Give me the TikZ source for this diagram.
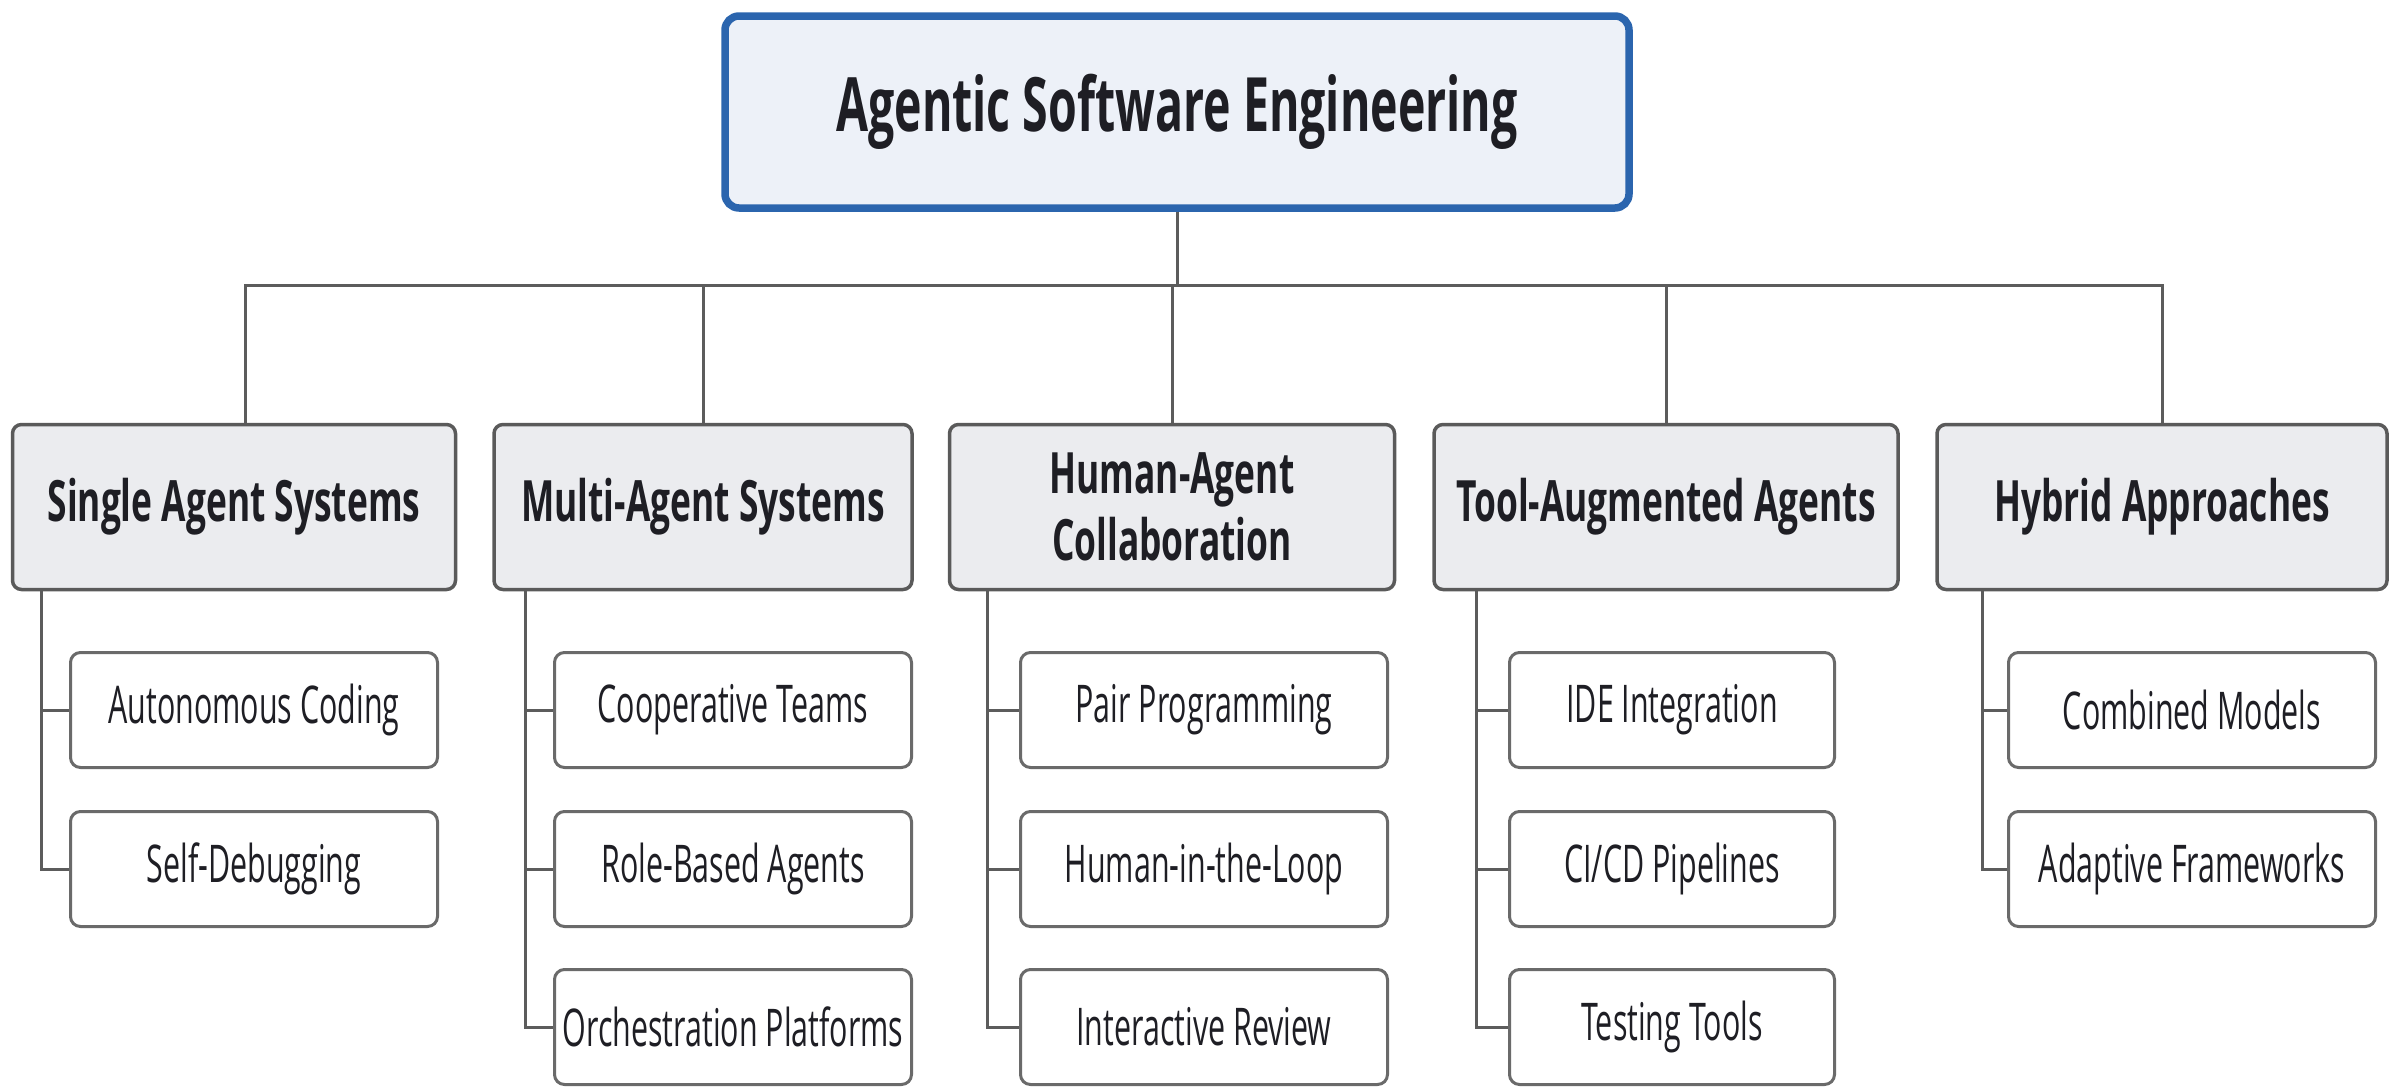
\documentclass[tikz,border=0pt]{standalone}
\usepackage{fontspec}
\setmainfont{Open Sans}[FakeStretch=0.62]
\newfontfamily\kidfont{Open Sans}[FakeStretch=0.585]
\usetikzlibrary{positioning,calc}
\definecolor{rootfill}{HTML}{EDF1F8}
\definecolor{rootedge}{HTML}{2B65AE}
\definecolor{catfill}{HTML}{EBECEF}
\definecolor{catedge}{HTML}{5A5A5A}
\definecolor{kidedge}{HTML}{6A6A6A}
\definecolor{txt}{HTML}{1E1E24}
\definecolor{linec}{HTML}{5C5C5C}
\tikzset{
  rootbox/.style={draw=rootedge, line width=7.5pt, fill=rootfill, rounded corners=14pt,
    minimum width=904pt, minimum height=192pt, inner sep=0pt, text=txt,
    font=\fontsize{75}{80}\selectfont\bfseries},
  catbox/.style={draw=catedge, line width=3.5pt, fill=catfill, rounded corners=9pt,
    minimum height=165pt, inner sep=0pt, text=txt, align=center,
    font=\fontsize{57}{67}\selectfont\bfseries},
  kidbox/.style={draw=kidedge, line width=3pt, fill=white, rounded corners=10pt,
    minimum height=115pt, inner sep=0pt, text=txt,
    font=\kidfont\fontsize{52}{60}\selectfont},
  conn/.style={draw=linec, line width=3pt}
}
\begin{document}
\begin{tikzpicture}[x=1pt,y=-1pt]
\useasboundingbox (0,0) rectangle (2399,1087);
% root
\node[rootbox] (root) at (1177,112) {Agentic Software Engineering};
% categories
\node[catbox, minimum width=443pt] (cat1) at (234,507) {Single Agent Systems};
\node[catbox, minimum width=418pt] (cat2) at (703,507) {Multi-Agent Systems};
\node[catbox, minimum width=445pt] (cat3) at (1172,507) {Human-Agent\\Collaboration};
\node[catbox, minimum width=464pt] (cat4) at (1666,507) {Tool-Augmented Agents};
\node[catbox, minimum width=450pt] (cat5) at (2162,507) {Hybrid Approaches};
% children
\node[kidbox, minimum width=367pt] (k11) at (254,710) {Autonomous Coding};
\node[kidbox, minimum width=367pt] (k12) at (254,869) {Self-Debugging};
\node[kidbox, minimum width=357pt] (k21) at (733,710) {Cooperative Teams};
\node[kidbox, minimum width=357pt] (k22) at (733,869) {Role-Based Agents};
\node[kidbox, minimum width=357pt] (k23) at (733,1027) {Orchestration Platforms};
\node[kidbox, minimum width=367pt] (k31) at (1204,710) {Pair Programming};
\node[kidbox, minimum width=367pt] (k32) at (1204,869) {Human-in-the-Loop};
\node[kidbox, minimum width=367pt] (k33) at (1204,1027) {Interactive Review};
\node[kidbox, minimum width=325pt] (k41) at (1672,710) {IDE Integration};
\node[kidbox, minimum width=325pt] (k42) at (1672,869) {CI/CD Pipelines};
\node[kidbox, minimum width=325pt] (k43) at (1672,1027) {Testing Tools};
\node[kidbox, minimum width=367pt] (k51) at (2192,710) {Combined Models};
\node[kidbox, minimum width=367pt] (k52) at (2192,869) {Adaptive Frameworks};
% bus
\draw[conn] (root.south) -- ++(0,74) -| ($(cat1.north)+(11,0)$);
\foreach \c in {cat2,cat3,cat4,cat5}
  \draw[conn] (root.south) -- ++(0,74) -| (\c.north);
% trunks
\coordinate (t1) at (41,591);
\coordinate (t2) at (525,591);
\coordinate (t3) at (987,591);
\coordinate (t4) at (1476,591);
\coordinate (t5) at (1982,591);
\draw[conn] (t1) |- (k12.west);
\draw[conn] (t1) |- (k11.west);
\draw[conn] (t2) |- (k23.west);
\draw[conn] (t2) |- (k22.west);
\draw[conn] (t2) |- (k21.west);
\draw[conn] (t3) |- (k33.west);
\draw[conn] (t3) |- (k32.west);
\draw[conn] (t3) |- (k31.west);
\draw[conn] (t4) |- (k43.west);
\draw[conn] (t4) |- (k42.west);
\draw[conn] (t4) |- (k41.west);
\draw[conn] (t5) |- (k52.west);
\draw[conn] (t5) |- (k51.west);
\end{tikzpicture}
\end{document}
